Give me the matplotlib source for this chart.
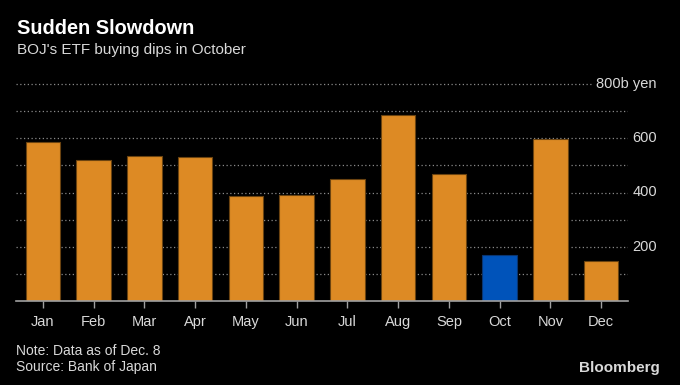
import matplotlib
matplotlib.use("Agg")
import matplotlib.pyplot as plt
import matplotlib.transforms as mtransforms

months = ["Jan", "Feb", "Mar", "Apr", "May", "Jun", "Jul", "Aug", "Sep", "Oct", "Nov", "Dec"]
purchases = [586, 518, 535, 532, 387, 390, 448, 686, 467, 168, 599, 147]
highlight = "Oct"
ytick_values = [200, 400, 600, 800]
ytick_labels = ["200", "400", "600", "800b yen"]

ORANGE = "#dd8a24"
BLUE = "#0053ba"
BG = "black"
TXT = "#d9d9d9"

plt.rcParams["font.family"] = ["Liberation Sans", "DejaVu Sans"]

fig = plt.figure(figsize=(6.8, 3.85), dpi=100, facecolor=BG)
W, H = 680, 385
ax = fig.add_axes([16 / W, (H - 301) / H, (628 - 16) / W, (301 - 84) / H])
ax.set_facecolor(BG)

x = range(len(months))
colors = [BLUE if m == highlight else ORANGE for m in months]
edges = ["#0a3570" if m == highlight else "#6b4310" for m in months]
ax.bar(x, purchases, width=0.68, color=colors, edgecolor=edges, linewidth=0.8, zorder=3)

ax.set_xlim(-0.53, 11.53)
ax.set_ylim(0, 800)

# dotted gridlines every 100, top one shortened for its label
for v in range(100, 800, 100):
    ax.axhline(v, color="#8a8a8a", lw=0.9, ls=(0, (1, 2)), zorder=1)
ax.plot([-0.53, (592 - 16) / (628 - 16) * 12.06 - 0.53], [800, 800],
        color="#8a8a8a", lw=0.9, ls=(0, (1, 2)), zorder=1, clip_on=False)

for s in ["top", "right", "left"]:
    ax.spines[s].set_visible(False)
ax.spines["bottom"].set_color("#a0a0a0")
ax.spines["bottom"].set_linewidth(1.2)
ax.spines["bottom"].set_zorder(4)

ax.set_xticks(list(x))
ax.set_xticklabels(months, fontsize=10.5, color=TXT)
ax.tick_params(axis="x", colors="#a0a0a0", length=5, width=1, pad=5, labelcolor=TXT)
ax.set_yticks([])

trans = mtransforms.blended_transform_factory(fig.transFigure, ax.transData)
for v, lab in zip(ytick_values, ytick_labels):
    ax.text(657 / W, v, lab, transform=trans, ha="right", va="center",
            fontsize=10.5, color=TXT, clip_on=False)

fig.text(17 / W, 1 - 28 / H, "Sudden Slowdown", fontsize=14.3, fontweight="bold",
         color="white", va="center", ha="left")
fig.text(17 / W, 1 - 50 / H, "BOJ's ETF buying dips in October", fontsize=11,
         color=TXT, va="center", ha="left")
fig.text(16 / W, 1 - 351 / H, "Note: Data as of Dec. 8", fontsize=10,
         color=TXT, va="center", ha="left")
fig.text(16 / W, 1 - 367 / H, "Source: Bank of Japan", fontsize=10,
         color=TXT, va="center", ha="left")
fig.text(660 / W, 1 - 368 / H, "Bloomberg", fontsize=11, fontweight="bold",
         color=TXT, va="center", ha="right")

fig.savefig("out.png", dpi=100, facecolor=BG)
